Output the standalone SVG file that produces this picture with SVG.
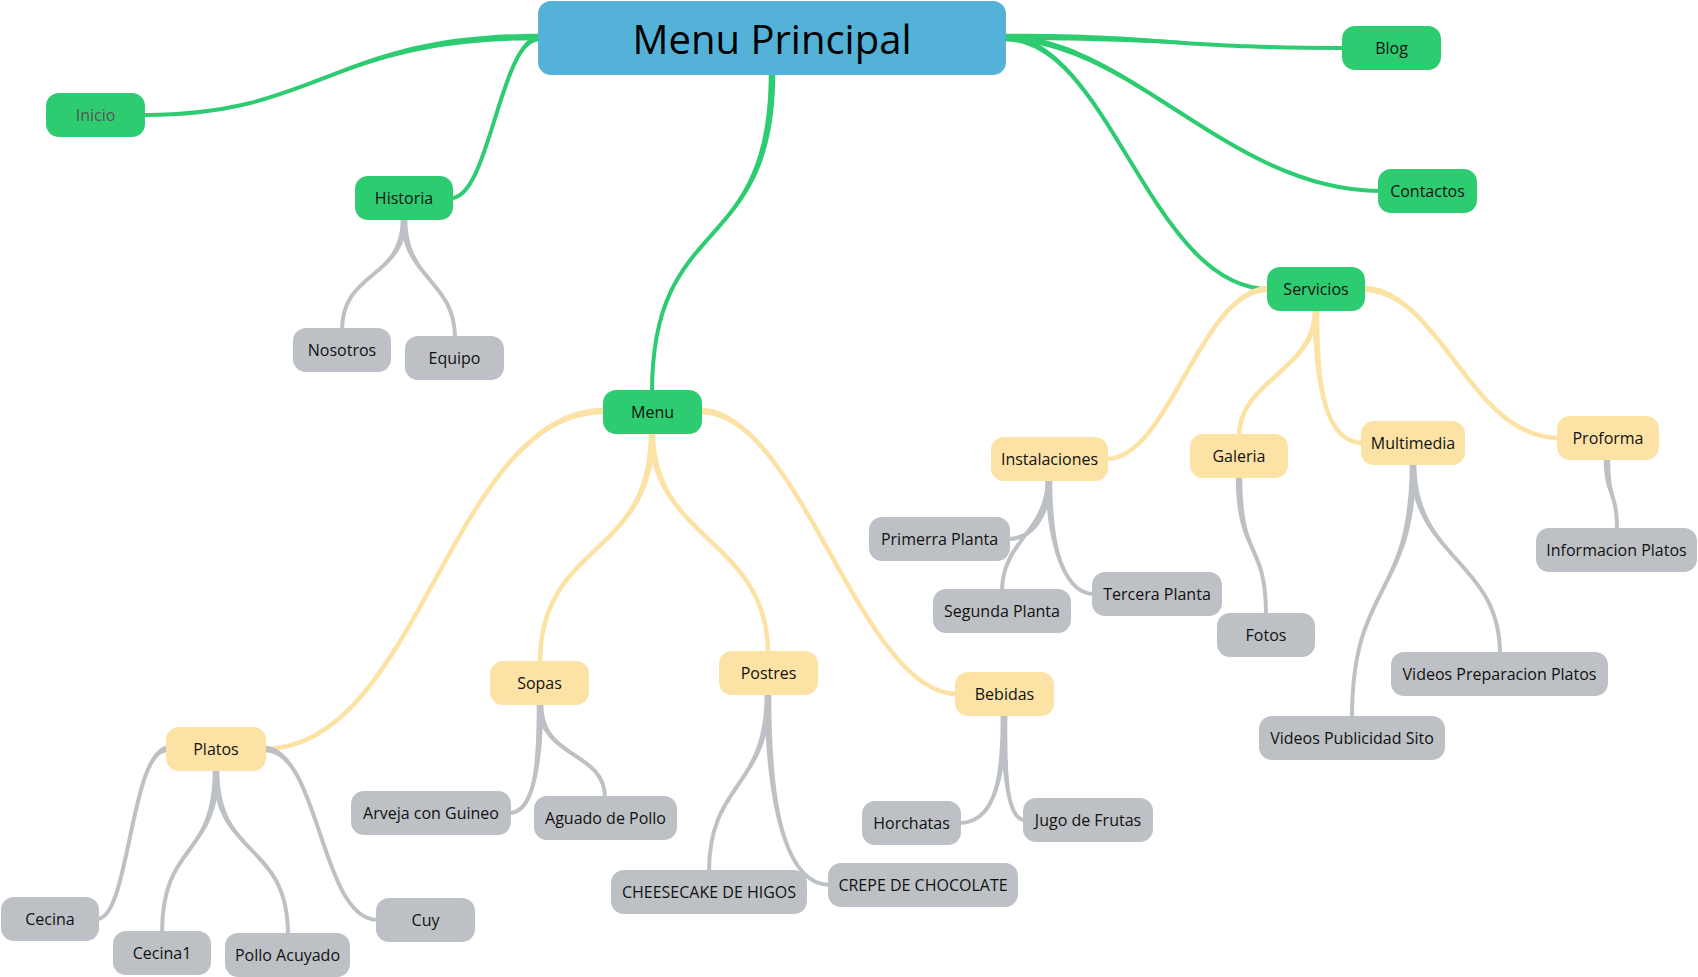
<svg xmlns="http://www.w3.org/2000/svg" width="1698" height="977" viewBox="0 0 1698 977">
<style>
.e{fill:none;stroke-linecap:round}
.g1{stroke:#2ecc71;stroke-width:4}
.y1{stroke:#fce3a5;stroke-width:4.5}
.s1{stroke:#bdc1c5;stroke-width:4}
.gf{fill:#2ecc71}
.yf{fill:#fce3a5}
.sf{fill:#bdc1c5}
.n rect{rx:13;ry:13}
.green rect{fill:#2ecc71}
.yellow rect{fill:#fce3a5}
.gray rect{fill:#bdc1c5}
.n text{font-family:"Open Sans","Liberation Sans",sans-serif;font-size:16px;fill:#111;text-anchor:middle;dominant-baseline:central}
</style>
<rect width="1698" height="977" fill="#ffffff"/>
<g id="connectors">
<path class="e g1" d="M540,37 C330,37 320,115 145,115"/>
<path class="gf" d="M540,40.25 C330,40.25 320,115 145,115 C320,115 330,33.75 540,33.75 Z"/>
<path class="e g1" d="M540,38 C500,38 490,198 451,198"/>
<path class="gf" d="M540,41.25 C500,41.25 490,198 451,198 C490,198 500,34.75 540,34.75 Z"/>
<path class="e g1" d="M772,73 C772,260 652,210 652,392"/>
<path class="gf" d="M775.25,73 C775.25,260 652,210 652,392 C652,210 768.75,260 768.75,73 Z"/>
<path class="e g1" d="M1004,37 C1180,37 1180,48 1344,48"/>
<path class="gf" d="M1004,40.25 C1180,40.25 1180,48 1344,48 C1180,48 1180,33.75 1004,33.75 Z"/>
<path class="e g1" d="M1004,38 C1130,38 1230,191 1380,191"/>
<path class="gf" d="M1004,41.25 C1130,41.25 1230,191 1380,191 C1230,191 1130,34.75 1004,34.75 Z"/>
<path class="e g1" d="M1004,38 C1110,38 1150,289 1269,289"/>
<path class="gf" d="M1004,41.25 C1110,41.25 1150,289 1269,289 C1150,289 1110,34.75 1004,34.75 Z"/>
<path class="e y1" d="M1269,289 C1200,289 1170,459 1106,459"/>
<path class="yf" d="M1269,292.25 C1200,292.25 1170,459 1106,459 C1170,459 1200,285.75 1269,285.75 Z"/>
<path class="e y1" d="M1316,309 C1316,370 1239,380 1239,436"/>
<path class="yf" d="M1319.25,309 C1319.25,370 1239,380 1239,436 C1239,380 1312.75,370 1312.75,309 Z"/>
<path class="e y1" d="M1316,309 C1316,400 1330,443 1363,443"/>
<path class="yf" d="M1319.25,309 C1319.25,400 1330,443 1363,443 C1330,443 1312.75,400 1312.75,309 Z"/>
<path class="e y1" d="M1363,289 C1440,289 1470,438 1559,438"/>
<path class="yf" d="M1363,292.25 C1440,292.25 1470,438 1559,438 C1470,438 1440,285.75 1363,285.75 Z"/>
<path class="e y1" d="M605,411 C450,411 420,749 264,749"/>
<path class="yf" d="M605,414.25 C450,414.25 420,749 264,749 C420,749 450,407.75 605,407.75 Z"/>
<path class="e y1" d="M652,432 C652,560 540,540 540,663"/>
<path class="yf" d="M655.25,432 C655.25,560 540,540 540,663 C540,540 648.75,560 648.75,432 Z"/>
<path class="e y1" d="M652,432 C652,540 768,540 768,653"/>
<path class="yf" d="M655.25,432 C655.25,540 768,540 768,653 C768,540 648.75,540 648.75,432 Z"/>
<path class="e y1" d="M700,411 C800,411 860,694 957,694"/>
<path class="yf" d="M700,414.25 C800,414.25 860,694 957,694 C860,694 800,407.75 700,407.75 Z"/>
<path class="e s1" d="M1049,478 C1049,520 1030,539 1008,539"/>
<path class="sf" d="M1052.25,478 C1052.25,520 1030,539 1008,539 C1030,539 1045.75,520 1045.75,478 Z"/>
<path class="e s1" d="M1049,478 C1049,530 1002,540 1002,591"/>
<path class="sf" d="M1052.25,478 C1052.25,530 1002,540 1002,591 C1002,540 1045.75,530 1045.75,478 Z"/>
<path class="e s1" d="M1049,478 C1049,560 1070,594 1094,594"/>
<path class="sf" d="M1052.25,478 C1052.25,560 1070,594 1094,594 C1070,594 1045.75,560 1045.75,478 Z"/>
<path class="e s1" d="M1239,475 C1239,560 1266,540 1266,615"/>
<path class="sf" d="M1242.25,475 C1242.25,560 1266,540 1266,615 C1266,540 1235.75,560 1235.75,475 Z"/>
<path class="e s1" d="M1413,462 C1413,600 1352,580 1352,718"/>
<path class="sf" d="M1416.25,462 C1416.25,600 1352,580 1352,718 C1352,580 1409.75,600 1409.75,462 Z"/>
<path class="e s1" d="M1413,462 C1413,560 1500,560 1500,654"/>
<path class="sf" d="M1416.25,462 C1416.25,560 1500,560 1500,654 C1500,560 1409.75,560 1409.75,462 Z"/>
<path class="e s1" d="M1607,458 C1607,500 1617,490 1617,530"/>
<path class="sf" d="M1610.25,458 C1610.25,500 1617,490 1617,530 C1617,490 1603.75,500 1603.75,458 Z"/>
<path class="e s1" d="M404,218 C404,280 342,270 342,330"/>
<path class="sf" d="M407.25,218 C407.25,280 342,270 342,330 C342,270 400.75,280 400.75,218 Z"/>
<path class="e s1" d="M404,218 C404,280 455,280 455,338"/>
<path class="sf" d="M407.25,218 C407.25,280 455,280 455,338 C455,280 400.75,280 400.75,218 Z"/>
<path class="e s1" d="M168,749 C130,749 130,919 97,919"/>
<path class="sf" d="M168,752.25 C130,752.25 130,919 97,919 C130,919 130,745.75 168,745.75 Z"/>
<path class="e s1" d="M216,769 C216,860 162,840 162,933"/>
<path class="sf" d="M219.25,769 C219.25,860 162,840 162,933 C162,840 212.75,860 212.75,769 Z"/>
<path class="e s1" d="M216,769 C216,860 288,840 288,935"/>
<path class="sf" d="M219.25,769 C219.25,860 288,840 288,935 C288,840 212.75,860 212.75,769 Z"/>
<path class="e s1" d="M264,749 C320,749 320,920 378,920"/>
<path class="sf" d="M264,752.25 C320,752.25 320,920 378,920 C320,920 320,745.75 264,745.75 Z"/>
<path class="e s1" d="M540,703 C540,780 530,813 509,813"/>
<path class="sf" d="M543.25,703 C543.25,780 530,813 509,813 C530,813 536.75,780 536.75,703 Z"/>
<path class="e s1" d="M540,703 C540,760 605,750 605,798"/>
<path class="sf" d="M543.25,703 C543.25,760 605,750 605,798 C605,750 536.75,760 536.75,703 Z"/>
<path class="e s1" d="M768,692 C768,790 709,780 709,872"/>
<path class="sf" d="M771.25,692 C771.25,790 709,780 709,872 C709,780 764.75,790 764.75,692 Z"/>
<path class="e s1" d="M768,692 C768,820 790,885 830,885"/>
<path class="sf" d="M771.25,692 C771.25,820 790,885 830,885 C790,885 764.75,820 764.75,692 Z"/>
<path class="e s1" d="M1004,714 C1004,790 990,823 959,823"/>
<path class="sf" d="M1007.25,714 C1007.25,790 990,823 959,823 C990,823 1000.75,790 1000.75,714 Z"/>
<path class="e s1" d="M1004,714 C1004,790 1010,820 1025,820"/>
<path class="sf" d="M1007.25,714 C1007.25,790 1010,820 1025,820 C1010,820 1000.75,790 1000.75,714 Z"/>
</g>
<g id="root" class="n"><rect x="538" y="1" width="468" height="74" rx="15" ry="15" style="fill:#54b2d9"/><text x="772" y="38" style="font-size:40px;fill:#000">Menu Principal</text></g>
<g id="inicio" class="n green"><rect x="46" y="93" width="99" height="44"/><text x="95.5" y="115" style="fill:#555">Inicio</text></g>
<g id="historia" class="n green"><rect x="355" y="176" width="98" height="44"/><text x="404" y="198">Historia</text></g>
<g id="nosotros" class="n gray"><rect x="293" y="328" width="98" height="44"/><text x="342" y="350">Nosotros</text></g>
<g id="equipo" class="n gray"><rect x="405" y="336" width="99" height="44"/><text x="454.5" y="358">Equipo</text></g>
<g id="menu" class="n green"><rect x="603" y="390" width="99" height="44"/><text x="652.5" y="412">Menu</text></g>
<g id="blog" class="n green"><rect x="1342" y="26" width="99" height="44"/><text x="1391.5" y="48">Blog</text></g>
<g id="contactos" class="n green"><rect x="1378" y="169" width="99" height="44"/><text x="1427.5" y="191">Contactos</text></g>
<g id="servicios" class="n green"><rect x="1267" y="267" width="98" height="44"/><text x="1316" y="289">Servicios</text></g>
<g id="instalaciones" class="n yellow"><rect x="991" y="437" width="117" height="44"/><text x="1049.5" y="459">Instalaciones</text></g>
<g id="galeria" class="n yellow"><rect x="1190" y="434" width="98" height="44"/><text x="1239" y="456">Galeria</text></g>
<g id="multimedia" class="n yellow"><rect x="1361" y="421" width="104" height="44"/><text x="1413" y="443">Multimedia</text></g>
<g id="proforma" class="n yellow"><rect x="1557" y="416" width="102" height="44"/><text x="1608" y="438">Proforma</text></g>
<g id="primerra" class="n gray"><rect x="869" y="517" width="141" height="44"/><text x="939.5" y="539">Primerra Planta</text></g>
<g id="segunda" class="n gray"><rect x="933" y="589" width="138" height="44"/><text x="1002" y="611">Segunda Planta</text></g>
<g id="tercera" class="n gray"><rect x="1092" y="572" width="130" height="44"/><text x="1157" y="594">Tercera Planta</text></g>
<g id="fotos" class="n gray"><rect x="1217" y="613" width="98" height="44"/><text x="1266" y="635">Fotos</text></g>
<g id="informacion" class="n gray"><rect x="1536" y="528" width="161" height="44"/><text x="1616.5" y="550">Informacion Platos</text></g>
<g id="videosprep" class="n gray"><rect x="1391" y="652" width="217" height="44"/><text x="1499.5" y="674">Videos Preparacion Platos</text></g>
<g id="videospub" class="n gray"><rect x="1259" y="716" width="186" height="44"/><text x="1352" y="738">Videos Publicidad Sito</text></g>
<g id="bebidas" class="n yellow"><rect x="955" y="672" width="99" height="44"/><text x="1004.5" y="694">Bebidas</text></g>
<g id="horchatas" class="n gray"><rect x="862" y="801" width="99" height="44"/><text x="911.5" y="823">Horchatas</text></g>
<g id="jugo" class="n gray"><rect x="1023" y="798" width="130" height="44"/><text x="1088" y="820">Jugo de Frutas</text></g>
<g id="crepe" class="n gray"><rect x="828" y="863" width="190" height="44"/><text x="923" y="885">CREPE DE CHOCOLATE</text></g>
<g id="cheesecake" class="n gray"><rect x="611" y="870" width="196" height="44"/><text x="709" y="892">CHEESECAKE DE HIGOS</text></g>
<g id="platos" class="n yellow"><rect x="166" y="727" width="100" height="44"/><text x="216" y="749">Platos</text></g>
<g id="sopas" class="n yellow"><rect x="490" y="661" width="99" height="44"/><text x="539.5" y="683">Sopas</text></g>
<g id="postres" class="n yellow"><rect x="719" y="651" width="99" height="44"/><text x="768.5" y="673">Postres</text></g>
<g id="arveja" class="n gray"><rect x="351" y="791" width="160" height="44"/><text x="431" y="813">Arveja con Guineo</text></g>
<g id="aguado" class="n gray"><rect x="534" y="796" width="143" height="44"/><text x="605.5" y="818">Aguado de Pollo</text></g>
<g id="cecina" class="n gray"><rect x="1" y="897" width="98" height="44"/><text x="50" y="919">Cecina</text></g>
<g id="cecina1" class="n gray"><rect x="113" y="931" width="98" height="44"/><text x="162" y="953">Cecina1</text></g>
<g id="pollo" class="n gray"><rect x="225" y="933" width="125" height="44"/><text x="287.5" y="955">Pollo Acuyado</text></g>
<g id="cuy" class="n gray"><rect x="376" y="898" width="99" height="44"/><text x="425.5" y="920">Cuy</text></g>
</svg>
